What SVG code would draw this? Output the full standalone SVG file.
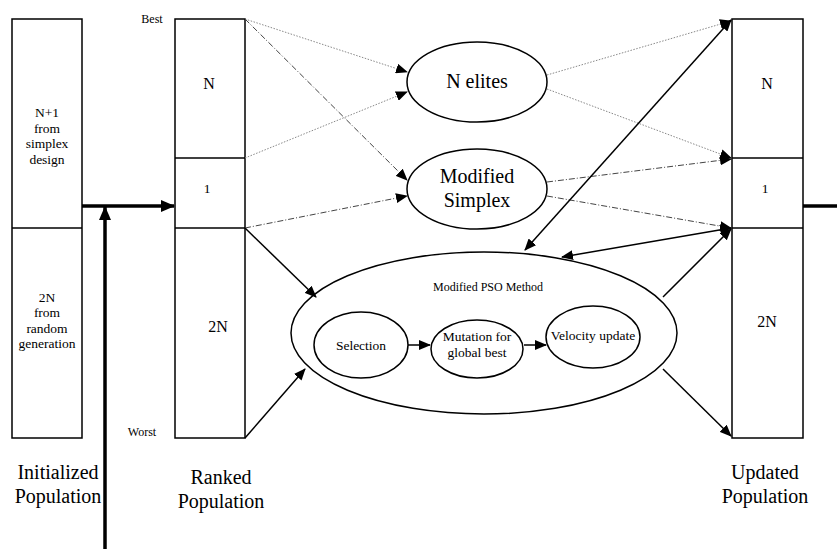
<svg xmlns="http://www.w3.org/2000/svg" width="837" height="549" viewBox="0 0 837 549" font-family="'Liberation Serif', 'Times New Roman', Times, Tinos, 'Noto Serif', 'DejaVu Serif', FreeSerif, serif">
<defs>
<marker id="ah" markerWidth="12" markerHeight="10" refX="11" refY="5" orient="auto" markerUnits="userSpaceOnUse"><path d="M0,0 L12,5 L0,10 Z" fill="#000"/></marker>
<marker id="ahs" markerWidth="12" markerHeight="10" refX="1" refY="5" orient="auto" markerUnits="userSpaceOnUse"><path d="M12,0 L0,5 L12,10 Z" fill="#000"/></marker>
<marker id="ahb" markerWidth="14" markerHeight="12" refX="13" refY="6" orient="auto" markerUnits="userSpaceOnUse"><path d="M0,0 L14,6 L0,12 Z" fill="#000"/></marker>
</defs>
<style>
.box{fill:#fff;stroke:#000;stroke-width:1.5}
.el{fill:#fff;stroke:#000;stroke-width:1.5}
text{font-family:'Liberation Serif','Times New Roman',Times,Tinos,'Noto Serif','DejaVu Serif',FreeSerif,serif;fill:#000;text-anchor:middle}
.sm{font-size:13.5px}
.md{font-size:16px}
.lg{font-size:20px}
.xs{font-size:12px}
.dot{stroke:#888;stroke-width:1;stroke-dasharray:1.5,1.5;fill:none}
.dash{stroke:#444;stroke-width:1;stroke-dasharray:6,2,1,2;fill:none}
.sol{stroke:#000;stroke-width:1.5;fill:none}
.thick{stroke:#000;stroke-width:3.5;fill:none}
</style>
<g id="initialized">
<rect class="box" x="12" y="19" width="70" height="419"/>
<line class="box" x1="12" y1="228" x2="82" y2="228"/>
<text class="sm" x="47" y="117">N+1</text>
<text class="sm" x="47" y="133">from</text>
<text class="sm" x="47" y="148">simplex</text>
<text class="sm" x="47" y="164">design</text>
<text class="sm" x="47" y="302">2N</text>
<text class="sm" x="47" y="317">from</text>
<text class="sm" x="47" y="333">random</text>
<text class="sm" x="47" y="348">generation</text>
<text class="lg" x="58" y="479">Initialized</text>
<text class="lg" x="58" y="503">Population</text>
</g>
<g id="ranked">
<rect class="box" x="175" y="19" width="70" height="419"/>
<line class="box" x1="175" y1="158" x2="245" y2="158"/>
<line class="box" x1="175" y1="228" x2="245" y2="228"/>
<text class="xs" x="152" y="23">Best</text>
<text class="xs" x="142" y="436">Worst</text>
<text class="md" x="209" y="89">N</text>
<text class="sm" x="207" y="193">1</text>
<text class="md" x="218" y="332">2N</text>
<text class="lg" x="221" y="484">Ranked</text>
<text class="lg" x="221" y="508">Population</text>
</g>
<g id="updated">
<rect class="box" x="732" y="19" width="71" height="419"/>
<line class="box" x1="732" y1="158" x2="803" y2="158"/>
<line class="box" x1="732" y1="228" x2="803" y2="228"/>
<text class="md" x="767" y="89">N</text>
<text class="sm" x="765" y="193">1</text>
<text class="md" x="767" y="327">2N</text>
<text class="lg" x="765" y="479">Updated</text>
<text class="lg" x="765" y="503">Population</text>
</g>
<g id="nelites">
<ellipse class="el" cx="477" cy="82" rx="70" ry="40"/>
<text class="lg" x="477" y="88">N elites</text>
</g>
<g id="simplex">
<ellipse class="el" cx="477" cy="189" rx="70" ry="40"/>
<text class="lg" x="477" y="183">Modified</text>
<text class="lg" x="477" y="207">Simplex</text>
</g>
<g id="pso">
<ellipse class="el" cx="484" cy="333" rx="193" ry="81"/>
<text class="xs" x="488" y="291">Modified PSO Method</text>
</g>
<g id="selection">
<ellipse class="el" cx="361" cy="345" rx="47" ry="33"/>
<text class="sm" x="361" y="350">Selection</text>
</g>
<g id="mutation">
<ellipse class="el" cx="477" cy="349" rx="46" ry="29"/>
<text class="sm" x="477" y="341">Mutation for</text>
<text class="sm" x="477" y="357">global best</text>
</g>
<g id="velocity">
<ellipse class="el" cx="593" cy="337" rx="47" ry="31"/>
<text class="sm" x="593" y="340">Velocity update</text>
</g>
<g id="connectors">
<line class="thick" x1="82" y1="206" x2="174" y2="206" marker-end="url(#ahb)"/>
<line class="thick" x1="105" y1="549" x2="105" y2="207" marker-end="url(#ahb)"/>
<line class="thick" x1="803" y1="206" x2="837" y2="206"/>
<line class="dot" x1="245" y1="19" x2="407" y2="72" marker-end="url(#ah)"/>
<line class="dot" x1="245" y1="158" x2="407" y2="92" marker-end="url(#ah)"/>
<line class="dot" x1="547" y1="75" x2="731" y2="21" marker-end="url(#ah)"/>
<line class="dot" x1="547" y1="89" x2="731" y2="158" marker-end="url(#ah)"/>
<line class="dash" x1="245" y1="19" x2="407" y2="180" marker-end="url(#ah)"/>
<line class="dash" x1="245" y1="228" x2="407" y2="196" marker-end="url(#ah)"/>
<line class="dash" x1="547" y1="182" x2="731" y2="159" marker-end="url(#ah)"/>
<line class="dash" x1="547" y1="196" x2="731" y2="228" marker-end="url(#ah)"/>
<line class="sol" x1="245" y1="228" x2="316" y2="297" marker-end="url(#ah)"/>
<line class="sol" x1="245" y1="438" x2="305" y2="369" marker-end="url(#ah)"/>
<line class="sol" x1="663" y1="297" x2="731" y2="229" marker-end="url(#ah)"/>
<line class="sol" x1="663" y1="369" x2="731" y2="436" marker-end="url(#ah)"/>
<line class="sol" x1="525" y1="250" x2="731" y2="20" marker-start="url(#ahs)" marker-end="url(#ah)"/>
<line class="sol" x1="562" y1="257" x2="731" y2="228" marker-start="url(#ahs)" marker-end="url(#ah)"/>
<line class="sol" x1="408" y1="345" x2="430" y2="345" marker-end="url(#ah)"/>
<line class="sol" x1="524" y1="345" x2="546" y2="345" marker-end="url(#ah)"/>
</g>
</svg>
